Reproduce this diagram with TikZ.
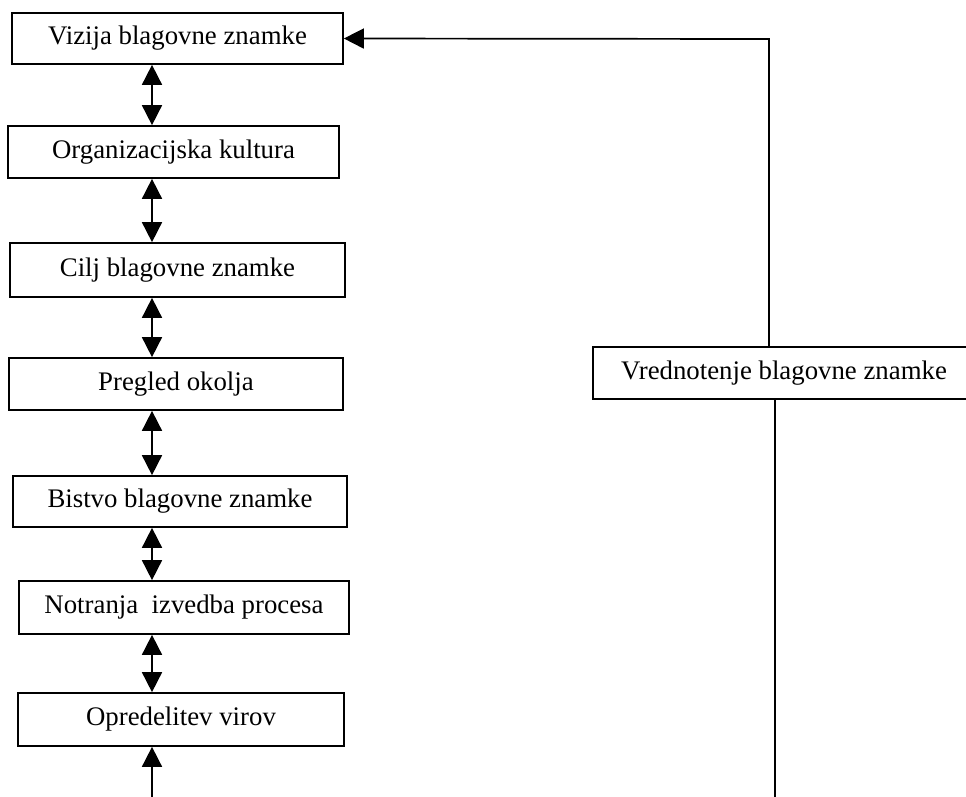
\documentclass[tikz,border=0pt]{standalone}
\usepackage{fontspec}
\setmainfont{Liberation Serif}
\usetikzlibrary{arrows.meta}
\begin{document}
\begin{tikzpicture}[x=1pt,y=1pt,
  box/.style={draw, line width=1.7pt, rectangle, inner sep=0pt, font=\fontsize{26.8}{32}\selectfont},
  conn/.style={line width=1.7pt},
  tip/.style={-{Triangle[length=20pt,width=20pt]}},
  bitip/.style={{Triangle[length=20pt,width=20pt]}-{Triangle[length=20pt,width=20pt]}}]
\useasboundingbox[fill=white] (0,0) rectangle (966,-796);
% left column boxes
\node[box, minimum width=331pt, minimum height=51pt] (b1) at (177.5,-38.5) {Vizija blagovne znamke};
\node[box, minimum width=331pt, minimum height=52pt] (b2) at (173.5,-152) {Organizacijska kultura};
\node[box, minimum width=335pt, minimum height=54pt] (b3) at (177.5,-270) {Cilj blagovne znamke};
\node[box, minimum width=334pt, minimum height=52pt] (b4) at (176,-384) {Pregled okolja};
\node[box, minimum width=334pt, minimum height=51pt] (b5) at (180,-501.5) {Bistvo blagovne znamke};
\node[box, minimum width=330pt, minimum height=53pt] (b6) at (184,-607.5) {Notranja\ \ izvedba procesa};
\node[box, minimum width=326pt, minimum height=53pt] (b7) at (181,-719.5) {Opredelitev virov};
\node[box, minimum width=382pt, minimum height=52pt] (v) at (784,-373) {Vrednotenje blagovne znamke};
% helper coordinates
\coordinate (ax) at (152,0);
\coordinate (bot) at (152,-800);
\coordinate (corner) at (769,-39);
\coordinate (vbot) at (775,-800);
% vertical double arrows
\draw[conn,bitip] (b1.south -| ax) -- (b2.north -| ax);
\draw[conn,bitip] (b2.south -| ax) -- (b3.north -| ax);
\draw[conn,bitip] (b3.south -| ax) -- (b4.north -| ax);
\draw[conn,bitip] (b4.south -| ax) -- (b5.north -| ax);
\draw[conn,bitip] (b5.south -| ax) -- (b6.north -| ax);
\draw[conn,bitip] (b6.south -| ax) -- (b7.north -| ax);
\draw[conn,tip] (bot) -- (b7.south -| ax);
% feedback from evaluation box
\draw[conn,tip] (v.north -| corner) -- (corner) -- (b1.east);
\draw[conn] (v.south -| vbot) -- (vbot);
\end{tikzpicture}
\end{document}
